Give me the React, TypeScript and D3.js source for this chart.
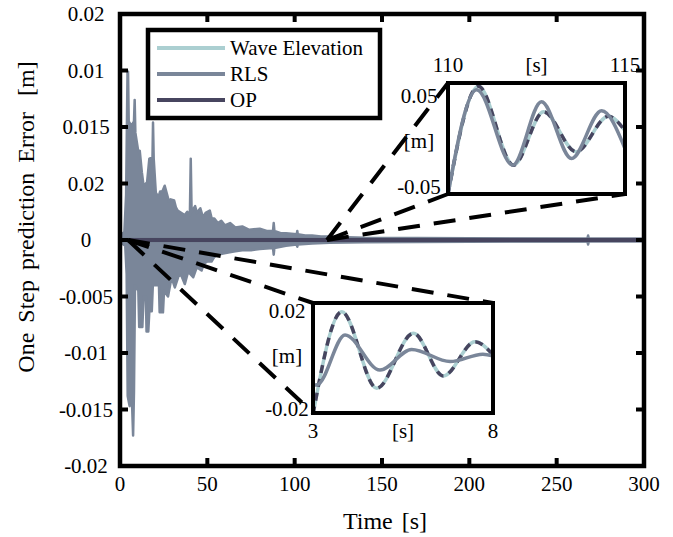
import React from 'react';
import * as d3 from 'd3';

const W = 673, H = 537;
const FONT = "Liberation Serif, Times New Roman, Times, serif";

// axis ticks
const xTickValues = [0, 50, 100, 150, 200, 250, 300];
const yTickValues = [-0.02, -0.015, -0.01, -0.005, 0, 0.005, 0.01, 0.015, 0.02];
const yTickLabels = ["-0.02", "-0.015", "-0.01", "-0.005", "0", "0.02", "0.015", "0.01", "0.02"];

// legend
const seriesNames = ["Wave Elevation", "RLS", "OP"];
const seriesColors = ["#abcfd1", "#7a8699", "#47455f"];

// RLS error envelope
const rlsUpperT = [0, 2.5, 3.5, 4.3, 4.6, 5.0, 6.5, 8.0, 8.4, 8.8, 10.5, 11.3, 12.5, 13.5, 15.5, 16.8, 18.6, 18.9, 19.3, 20.5, 22, 23, 24, 25.6, 27, 28, 29, 31, 32, 33, 35, 37, 38.5, 40, 40.5, 41, 43, 44, 46, 47.5, 49, 51.4, 52.5, 54, 56, 58, 60, 63, 66, 70, 74, 80, 84, 87.6, 88, 88.4, 92, 95, 101.2, 101.5, 101.8, 106, 110, 115, 120, 130, 140, 200, 267.6, 268, 268.4, 300];
const rlsUpperV = [0.0004, 0.0007, 0.004, 0.0148, 0.0149, 0.0105, 0.0101, 0.0105, 0.0124, 0.0095, 0.0078, 0.0079, 0.006, 0.0048, 0.0051, 0.0072, 0.0073, 0.0104, 0.0072, 0.0042, 0.0038, 0.0043, 0.0042, 0.0048, 0.004, 0.0034, 0.0036, 0.0035, 0.0029, 0.0026, 0.0024, 0.0022, 0.0025, 0.0022, 0.0072, 0.0025, 0.003, 0.0024, 0.0028, 0.002, 0.0024, 0.0026, 0.0019, 0.0019, 0.0015, 0.0017, 0.0013, 0.0015, 0.0011, 0.0012, 0.0009, 0.001, 0.0008, 0.0008, 0.0015, 0.0008, 0.0006, 0.0006, 0.0005, 0.0008, 0.0005, 0.0004, 0.0004, 0.0003, 0.0003, 0.00025, 0.0002, 0.00015, 0.00012, 0.0004, 0.00012, 0.0001];
const rlsLowerT = [0, 3, 3.8, 4.4, 5.5, 6.8, 7.5, 8.0, 8.6, 10.5, 11.0, 12.8, 13.5, 14.8, 15.2, 16.2, 16.8, 18.2, 18.8, 22.3, 22.7, 24.6, 25.2, 27.5, 29.5, 31.4, 33.5, 35, 37.1, 39, 41.9, 44, 46.7, 48, 50, 52.4, 54, 56, 59, 62, 66, 70, 75, 80, 87.6, 88, 88.4, 95, 101.2, 101.5, 101.8, 110, 120, 140, 200, 267.6, 268, 268.4, 300];
const rlsLowerV = [-0.0002, -0.0005, -0.003, -0.0138, -0.0147, -0.014, -0.0173, -0.0135, -0.004, -0.0045, -0.0077, -0.0077, -0.005, -0.005, -0.0081, -0.0081, -0.0063, -0.0063, -0.004, -0.004, -0.0064, -0.0064, -0.0045, -0.005, -0.0033, -0.0042, -0.0032, -0.0031, -0.0039, -0.0028, -0.0033, -0.0024, -0.0027, -0.0021, -0.0019, -0.0019, -0.0015, -0.0013, -0.0012, -0.0011, -0.0010, -0.0009, -0.0009, -0.0008, -0.0007, -0.0013, -0.0007, -0.0005, -0.0004, -0.0006, -0.0004, -0.0003, -0.00025, -0.0002, -0.00015, -0.00012, -0.0004, -0.00012, -0.0001];

// Wave elevation / OP in main plot (zero error)
const waveT = [0, 300];
const waveV = [0, 0];
const opT = [0, 300];
const opV = [0, 0];

// inset 1 (110..115 s)
const inset1XLabels = ["110", "[s]", "115"];
const inset1YLabels = ["0.05", "[m]", "-0.05"];
const inset1WaveT = [110, 110.86, 111.85, 112.7, 113.62, 114.53, 115];
const inset1WaveV = [-0.05, 0.047, -0.024, 0.024, -0.012, 0.02, 0.007];
const inset1OpT = [110, 110.86, 111.85, 112.7, 113.62, 114.53, 115];
const inset1OpV = [-0.05, 0.047, -0.024, 0.024, -0.012, 0.02, 0.007];
const inset1RlsT = [110, 110.81, 111.83, 112.64, 113.49, 114.34, 115];
const inset1RlsV = [-0.05, 0.044, -0.024, 0.033, -0.018, 0.025, -0.009];

// inset 2 (3..8 s)
const inset2XLabels = ["3", "[s]", "8"];
const inset2YLabels = ["0.02", "[m]", "-0.02"];
const inset2WaveT = [3.0, 3.8, 4.77, 5.79, 6.62, 7.5, 8.0];
const inset2WaveV = [-0.0205, 0.0168, -0.011, 0.009, -0.0065, 0.0059, 0.0012];
const inset2OpT = [3.0, 3.8, 4.77, 5.79, 6.62, 7.5, 8.0];
const inset2OpV = [-0.0205, 0.0168, -0.011, 0.009, -0.0065, 0.0059, 0.0012];
const inset2RlsT = [3.0, 3.12, 3.89, 4.86, 5.74, 6.81, 7.72, 8.0];
const inset2RlsV = [-0.0098, -0.0097, 0.0084, -0.0044, 0.0031, -0.0013, 0.0014, 0.0008];

// zoom source points (data coords)
const inset1Source = [118.5, 0];
const inset2Source = [4.6, 0];

const P = { left: 120, right: 644, top: 14, bottom: 466 };

type Pt = [number, number];
const zip = (t: number[], v: number[]): Pt[] => t.map((d, i) => [d, v[i]]);

function Inset({ box, xDom, yDom, wave, op, rls, xLabels, yLabels, id, yLabelX, yLabelYs, xLabelY }: any) {
  const sx = d3.scaleLinear().domain(xDom).range([box.x0, box.x1]);
  const sy = d3.scaleLinear().domain(yDom).range([box.y1, box.y0]);
  const line = d3.line<Pt>().x(d => sx(d[0])).y(d => sy(d[1])).curve(d3.curveMonotoneX);
  const xs = [box.x0, (box.x0 + box.x1) / 2, box.x1];
  return (
    <g>
      <defs>
        <clipPath id={id}>
          <rect x={box.x0} y={box.y0 - 2} width={box.x1 - box.x0} height={box.y1 - box.y0 + 4} />
        </clipPath>
      </defs>
      <rect x={box.x0} y={box.y0} width={box.x1 - box.x0} height={box.y1 - box.y0} fill="white" />
      <g clipPath={`url(#${id})`} fill="none" strokeLinecap="butt">
        <path d={line(wave) || ''} stroke={seriesColors[0]} strokeWidth={3.5} />
        <path d={line(op) || ''} stroke={seriesColors[2]} strokeWidth={3.5} strokeDasharray="8 6" />
        <path d={line(rls) || ''} stroke={seriesColors[1]} strokeWidth={3.5} />
      </g>
      <rect x={box.x0} y={box.y0} width={box.x1 - box.x0} height={box.y1 - box.y0} fill="none" stroke="black" strokeWidth={4} />
      {xLabels.map((l: string, i: number) => (
        <text key={'x' + i} x={xs[i]} y={xLabelY} textAnchor="middle" fontFamily={FONT} fontSize={21}>{l}</text>
      ))}
      {yLabels.map((l: string, i: number) => (
        <text key={'y' + i} x={yLabelX} y={yLabelYs[i]} textAnchor="middle" dominantBaseline="central" fontFamily={FONT} fontSize={21}>{l}</text>
      ))}
    </g>
  );
}

export default function App() {
  const x = d3.scaleLinear().domain([0, 300]).range([P.left, P.right]);
  const y = d3.scaleLinear().domain([-0.02, 0.02]).range([P.bottom, P.top]);

  const upper = zip(rlsUpperT, rlsUpperV);
  const lower = zip(rlsLowerT, rlsLowerV);
  const envLine = d3.line<Pt>().x(d => x(d[0])).y(d => y(d[1]));
  const rlsPoly = [...upper, ...lower.slice().reverse()];
  const line = d3.line<Pt>().x(d => x(d[0])).y(d => y(d[1]));

  const box1 = { x0: 448, x1: 625, y0: 83, y1: 194 };
  const box2 = { x0: 313, x1: 493, y0: 303, y1: 413 };

  const s1: Pt = [x(inset1Source[0]), y(inset1Source[1])];
  const s2: Pt = [x(inset2Source[0]), y(inset2Source[1])];
  const zoomLines: [Pt, Pt][] = [
    [s1, [box1.x0, box1.y0]], [s1, [box1.x0, box1.y1]], [s1, [box1.x1, box1.y1]],
    [s2, [box2.x0, box2.y0]], [s2, [box2.x1, box2.y0]], [s2, [box2.x0, box2.y1]],
  ];

  const tickLen = 8;
  return (
    <svg width={W} height={H} style={{ position: 'absolute', left: 0, top: 0, background: 'white' }}>
      {/* RLS */}
      <path d={(envLine(rlsPoly) || '') + 'Z'} fill={seriesColors[1]} stroke={seriesColors[1]} strokeWidth={2.5} strokeLinejoin="round" />
      {/* Wave + OP */}
      <path d={line(zip(waveT, waveV)) || ''} stroke={seriesColors[0]} strokeWidth={4.5} fill="none" />
      <path d={line(zip(opT, opV)) || ''} stroke={seriesColors[2]} strokeWidth={4.5} fill="none" />

      {/* axes frame & ticks */}
      <g stroke="black" strokeWidth={4}>
        {xTickValues.map(v => (
          <g key={'xt' + v}>
            <line x1={x(v)} x2={x(v)} y1={P.bottom} y2={P.bottom - tickLen} />
            <line x1={x(v)} x2={x(v)} y1={P.top} y2={P.top + tickLen} />
          </g>
        ))}
        {yTickValues.map(v => (
          <g key={'yt' + v}>
            <line x1={P.left} x2={P.left + tickLen} y1={y(v)} y2={y(v)} />
            <line x1={P.right} x2={P.right - tickLen} y1={y(v)} y2={y(v)} />
          </g>
        ))}
      </g>
      <rect x={P.left} y={P.top} width={P.right - P.left} height={P.bottom - P.top} fill="none" stroke="black" strokeWidth={4.5} />
      {xTickValues.map(v => (
        <text key={'xl' + v} x={x(v)} y={491} textAnchor="middle" fontFamily={FONT} fontSize={21}>{v}</text>
      ))}
      {yTickValues.map((v, i) => (
        <text key={'yl' + v} x={86} y={y(v)} textAnchor="middle" dominantBaseline="central" fontFamily={FONT} fontSize={21}>{yTickLabels[i]}</text>
      ))}
      <text x={(P.left + P.right) / 2 + 3} y={529} textAnchor="middle" fontFamily={FONT} fontSize={24} wordSpacing={3}>Time [s]</text>
      <text transform={`translate(34, 217) rotate(-90)`} textAnchor="middle" fontFamily={FONT} fontSize={24} wordSpacing={4}>
        One Step prediction Error<tspan dx={16}>[m]</tspan>
      </text>

      {/* legend */}
      <rect x={148} y={30} width={232} height={88} fill="white" stroke="black" strokeWidth={4.5} />
      {seriesNames.map((n, i) => (
        <g key={n}>
          <line x1={157} x2={225} y1={48 + i * 26} y2={48 + i * 26} stroke={seriesColors[i]} strokeWidth={4} />
          <text x={230} y={48 + i * 26} dominantBaseline="central" fontFamily={FONT} fontSize={21}>{n}</text>
        </g>
      ))}

      {/* zoom lines */}
      <g stroke="black" strokeWidth={4} strokeDasharray="22 14">
        {zoomLines.map((l, i) => (
          <line key={'z' + i} x1={l[0][0]} y1={l[0][1]} x2={l[1][0]} y2={l[1][1]} />
        ))}
      </g>

      <Inset id="c1" box={box1} xDom={[110, 115]} yDom={[-0.05, 0.05]}
        wave={zip(inset1WaveT, inset1WaveV)} op={zip(inset1OpT, inset1OpV)} rls={zip(inset1RlsT, inset1RlsV)}
        xLabels={inset1XLabels} yLabels={inset1YLabels} yLabelX={419} yLabelYs={[96, 141, 187]} xLabelY={72} />
      <Inset id="c2" box={box2} xDom={[3, 8]} yDom={[-0.02, 0.02]}
        wave={zip(inset2WaveT, inset2WaveV)} op={zip(inset2OpT, inset2OpV)} rls={zip(inset2RlsT, inset2RlsV)}
        xLabels={inset2XLabels} yLabels={inset2YLabels} yLabelX={287} yLabelYs={[311, 356, 409]} xLabelY={438} />
    </svg>
  );
}
